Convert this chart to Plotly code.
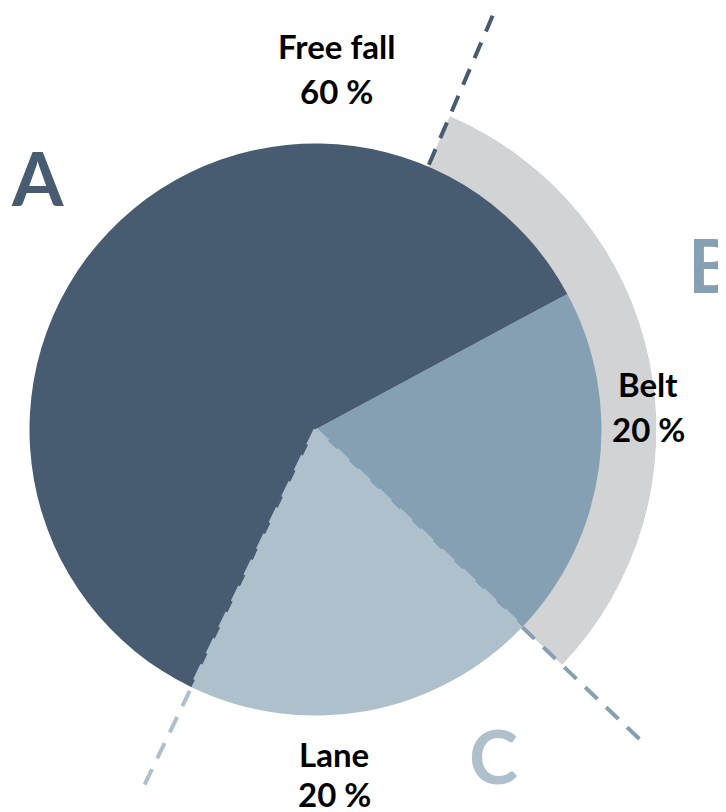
import math
import plotly.graph_objects as go

# pie slices (clockwise, starting at the Belt / Free fall boundary)
slice_labels = ["Belt", "Lane", "Free fall"]
slice_values = [20, 20, 60]
slice_colors = ["#85A0B3", "#AEC0CC", "#475C70"]

# outer groups (share of the full circle, %)
group_labels = ["B", "C", "A"]
group_values = [30.7, 20, 49.3]
group_colors = ["#85A0B3", "#AEC0CC", "#475C70"]

# the page body has an 8px margin, so the figure is drawn 8px in from the corner
OFF = 8
W, H = 726 - OFF, 812 - OFF
cx, cy = 315.5 - OFF, 429.5 - OFF   # pie centre in figure px
r_pie = 286                          # pie radius in px
r_ring = 341                         # outer edge of grey band
start_deg = 28.3                     # math angle where Belt starts (going clockwise)
font = "Lato"


def paper(x, y):
    # page pixel position -> paper coords
    return (x - OFF) / W, 1 - (y - OFF) / H


def polar_to_paper(r, deg):
    a = math.radians(deg)
    return (cx + r * math.cos(a)) / W, 1 - (cy - r * math.sin(a)) / H


fig = go.Figure()

# main pie
fig.add_trace(go.Pie(
    labels=slice_labels,
    values=slice_values,
    sort=False,
    direction="clockwise",
    rotation=90 - start_deg,
    marker=dict(colors=slice_colors, line=dict(width=0)),
    textinfo="none",
    hoverinfo="label+percent",
    showlegend=False,
    domain=dict(x=[(cx - r_pie) / W, (cx + r_pie) / W],
                y=[1 - (cy + r_pie) / H, 1 - (cy - r_pie) / H]),
))

# boundary angles (math degrees) of the slices
bl_deg = start_deg - slice_values[0] * 3.6           # Belt / Lane
la_deg = bl_deg - slice_values[1] * 3.6              # Lane / Free fall

# grey band for group B, drawn on a polar sector that starts at Belt / Lane
b_end = bl_deg + group_values[0] * 3.6
bbox_top = math.sin(math.radians(b_end))
bbox_bot = math.sin(math.radians(bl_deg))
fig.add_trace(go.Barpolar(
    r=[r_ring - r_pie + 6],
    base=[r_pie - 6],
    theta=[(bl_deg + b_end) / 2],
    width=[group_values[0] * 3.6],
    marker=dict(color="#D2D3D5", line=dict(width=0)),
    hoverinfo="skip",
    showlegend=False,
))
fig.update_layout(polar=dict(
    domain=dict(x=[cx / W, (cx + r_ring) / W],
                y=[1 - (cy - r_ring * bbox_bot) / H, 1 - (cy - r_ring * bbox_top) / H]),
    sector=[bl_deg, b_end],
    bgcolor="rgba(0,0,0,0)",
    radialaxis=dict(visible=False, range=[0, r_ring]),
    angularaxis=dict(visible=False),
    bargap=0,
))

# dashed group boundaries
dash = "17px,12px"
lines = [
    # (angle, r_from, r_to, colour)
    (b_end, r_pie + 2, 458, group_colors[2]),
    (bl_deg, 0, r_pie, slice_colors[1]),
    (bl_deg, r_pie, 450, group_colors[0]),
    (la_deg, 0, 395, group_colors[1]),
]
shapes = []
for ang, r0, r1, col in lines:
    x0, y0 = polar_to_paper(r0, ang)
    x1, y1 = polar_to_paper(r1, ang)
    shapes.append(dict(type="line", xref="paper", yref="paper",
                       x0=x0, y0=y0, x1=x1, y1=y1, layer="above",
                       line=dict(color=col, width=4, dash=dash)))

# slice labels (page px: x centre, y of name, y of percent)
label_pos = {"Free fall": (336, 46, 91), "Belt": (648, 384, 429), "Lane": (334, 754, 794)}
ann = []
for lab, val in zip(slice_labels, slice_values):
    x, y1, y2 = label_pos[lab]
    for txt, y in ((lab, y1), (f"{val} %", y2)):
        px, py = paper(x, y)
        ann.append(dict(text=txt, x=px, y=py, xref="paper", yref="paper",
                        showarrow=False, xanchor="center", yanchor="middle",
                        font=dict(family=font, size=33, color="black", weight="bold")))

# group letters
letter_pos = {"A": (37, 178), "B": (712, 264), "C": (493, 755)}
for lab, col in zip(group_labels, group_colors):
    px, py = paper(*letter_pos[lab])
    ann.append(dict(text=lab, x=px, y=py, xref="paper", yref="paper",
                    showarrow=False, xanchor="center", yanchor="middle",
                    font=dict(family=font, size=74, color=col, weight="bold")))

fig.update_layout(
    width=W, height=H,
    margin=dict(l=0, r=0, t=0, b=0),
    paper_bgcolor="white",
    plot_bgcolor="white",
    showlegend=False,
    shapes=shapes,
    annotations=ann,
)

fig.write_html("out.html")
